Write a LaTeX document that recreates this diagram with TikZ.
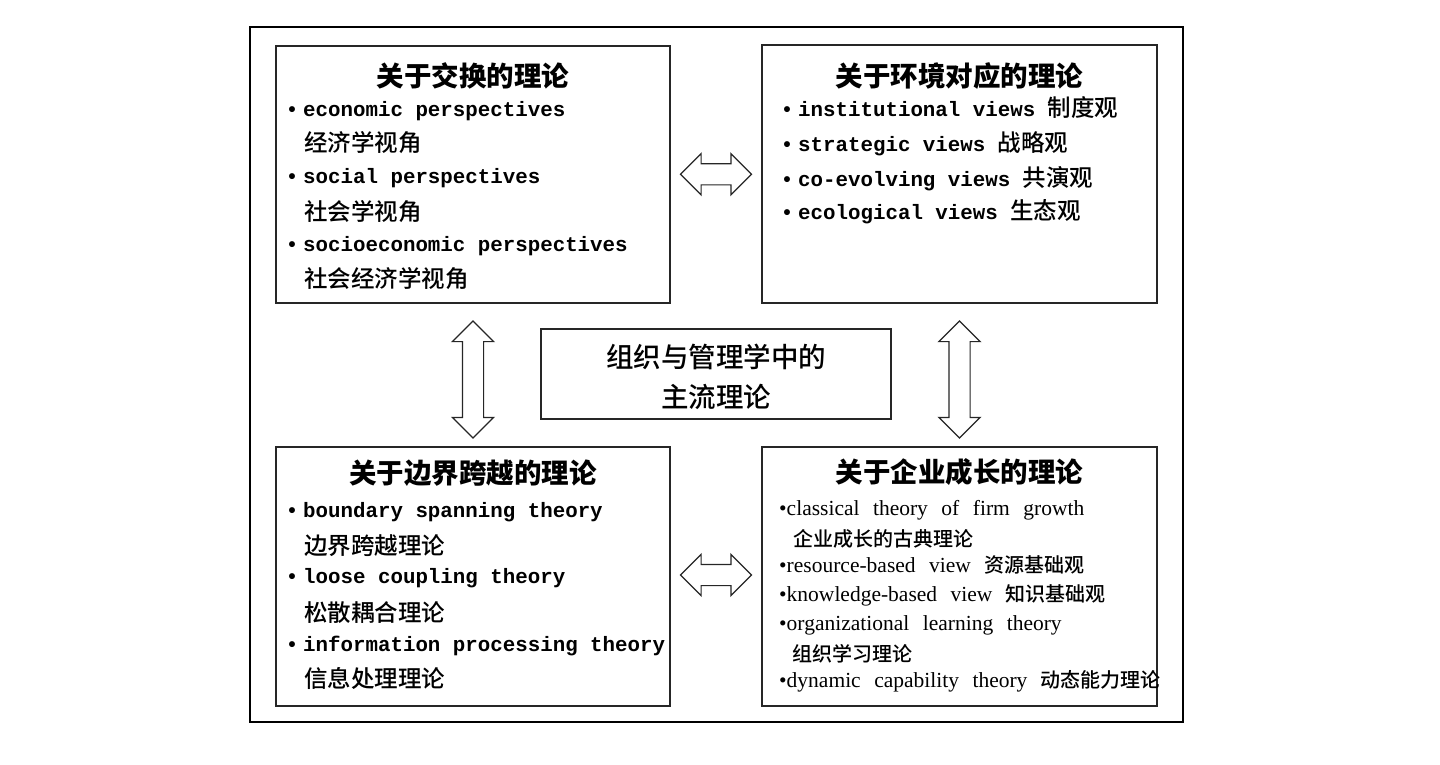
\documentclass[tikz,border=0pt]{standalone}
\usepackage{fontspec}
\usetikzlibrary{shapes.arrows,calc}
\newfontfamily\zhfont{Noto Sans CJK SC}
\newfontfamily\zhmed{Noto Sans CJK SC Medium}
\newfontfamily\mymono{Liberation Mono}
\newfontfamily\myserif{Liberation Serif}
\newcommand\tEN[1]{{\mymono\bfseries\fontsize{20.8pt}{25pt}\selectfont #1}}
\newcommand\tZH[1]{{\zhmed\fontsize{23.5pt}{28pt}\selectfont #1}}
\newcommand\tTI[1]{{\zhfont\bfseries\fontsize{27.5pt}{33pt}\selectfont #1}}
\newcommand\tCT[1]{{\zhmed\fontsize{27.5pt}{33pt}\selectfont #1}}
\newcommand\tRM[1]{{\myserif\fontsize{21.5pt}{25pt}\selectfont\spaceskip=13.5pt\relax #1}}
\newcommand\tZS[1]{{\zhmed\fontsize{20pt}{24pt}\selectfont #1}}
\newcommand\bul{\makebox[22pt]{\tEN{•}}}
\begin{document}
\begin{tikzpicture}[x=1pt,y=-1pt,
  frame/.style={draw=black, line width=1.8pt, inner sep=0pt},
  box/.style={draw=black!85, line width=1.3pt, fill=white, inner sep=0pt},
  ln/.style={anchor=base west, inner sep=0pt},
  ttl/.style={anchor=base, inner sep=0pt},
  dblarrow/.style={double arrow, draw=black!85, line width=1.2pt, fill=white,
    inner sep=10pt, minimum width=40pt, double arrow head extend=10pt}]
\useasboundingbox (0,0) rectangle (1440,765);
\node[frame, minimum width=933pt, minimum height=695pt] (outer) at (716.5,374.5) {};
% boxes
\node[box, minimum width=394pt, minimum height=257pt] (tl) at (473,174.5) {};
\node[box, minimum width=395pt, minimum height=258pt] (tr) at (959.5,174) {};
\node[box, minimum width=394pt, minimum height=259pt] (bl) at (473,576.5) {};
\node[box, minimum width=395pt, minimum height=259pt] (br) at (959.5,576.5) {};
\node[box, minimum width=350pt, minimum height=90pt] (ctr) at (716,374) {};
% arrows
\node[dblarrow, minimum height=71pt] (ah1) at ($(tl.east)!0.5!(tr.west)$) {};
\node[dblarrow, minimum height=71pt] (ah2) at ($(bl.east)!0.5!(br.west)+(0,-1.5)$) {};
\node[dblarrow, minimum height=117pt, shape border rotate=90] (av1) at ($(tl.south)!0.5!(bl.north)+(0,4.5)$) {};
\node[dblarrow, minimum height=117pt, shape border rotate=90] (av2) at ($(tr.south)!0.5!(br.north)+(0,4.5)$) {};
% centre
\node[ttl] (c1) at (716,367) {\tCT{组织与管理学中的}};
\node[ttl] (c2) at (716,407) {\tCT{主流理论}};
% top left
\node[ttl] (tlt) at (473,87) {\tTI{关于交换的理论}};
\node[ln] (tl1) at (281,117) {\bul\tEN{economic perspectives}};
\node[ln] (tl2) at (304,152) {\tZH{经济学视角}};
\node[ln] (tl3) at (281,183) {\bul\tEN{social perspectives}};
\node[ln] (tl4) at (304,220) {\tZH{社会学视角}};
\node[ln] (tl5) at (281,251) {\bul\tEN{socioeconomic perspectives}};
\node[ln] (tl6) at (304,287) {\tZH{社会经济学视角}};
% top right
\node[ttl] (trt) at (959.5,87) {\tTI{关于环境对应的理论}};
\node[ln] (tr1) at (776,117) {\bul\tEN{institutional views }\tZH{制度观}};
\node[ln] (tr2) at (776,152) {\bul\tEN{strategic views }\tZH{战略观}};
\node[ln] (tr3) at (776,186) {\bul\tEN{co-evolving views }\tZH{共演观}};
\node[ln] (tr4) at (776,219) {\bul\tEN{ecological views }\tZH{生态观}};
% bottom left
\node[ttl] (blt) at (473,483) {\tTI{关于边界跨越的理论}};
\node[ln] (bl1) at (281,517) {\bul\tEN{boundary spanning theory}};
\node[ln] (bl2) at (304,554) {\tZH{边界跨越理论}};
\node[ln] (bl3) at (281,583) {\bul\tEN{loose coupling theory}};
\node[ln] (bl4) at (304,621) {\tZH{松散耦合理论}};
\node[ln] (bl5) at (281,651) {\bul\tEN{information processing theory}};
\node[ln] (bl6) at (304,687) {\tZH{信息处理理论}};
% bottom right
\node[ttl] (brt) at (959.5,482) {\tTI{关于企业成长的理论}};
\node[ln] (br1) at (779,515) {\tRM{•classical theory of firm growth}};
\node[ln] (br2) at (793,546) {\tZS{企业成长的古典理论}};
\node[ln] (br3) at (779,572) {\tRM{•resource-based view }\tZS{资源基础观}};
\node[ln] (br4) at (779,601) {\tRM{•knowledge-based view }\tZS{知识基础观}};
\node[ln] (br5) at (779,630) {\tRM{•organizational learning theory}};
\node[ln] (br6) at (792,661) {\tZS{组织学习理论}};
\node[ln] (br7) at (779,687) {\tRM{•dynamic capability theory }\tZS{动态能力理论}};
\end{tikzpicture}
\end{document}
